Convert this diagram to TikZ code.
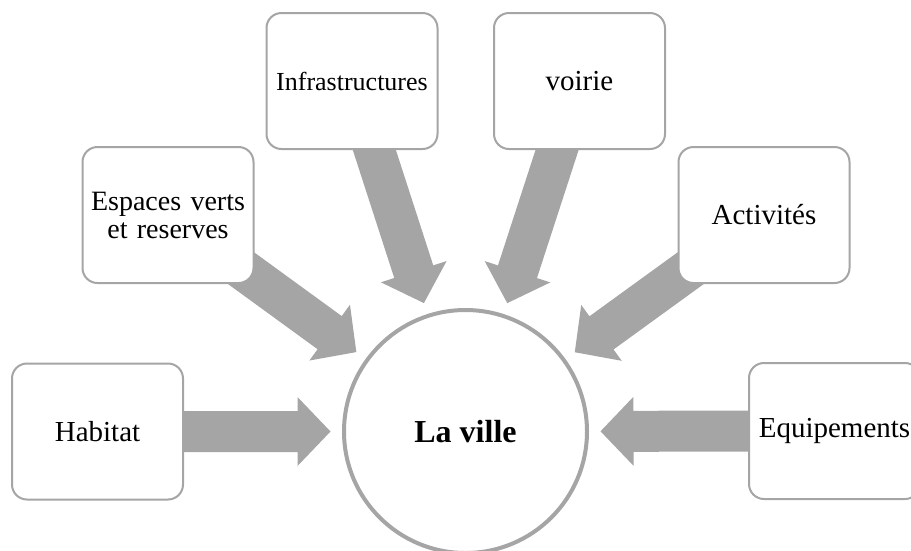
\documentclass[tikz,border=0pt]{standalone}
\usepackage{fontspec}
\setmainfont{Liberation Serif}
\usetikzlibrary{calc,backgrounds}
\definecolor{rimgray}{HTML}{A5A5A5}
\tikzset{
  topic/.style={draw=rimgray, line width=2pt, fill=white, rounded corners=15pt,
    minimum width=171pt, minimum height=136pt, align=center, inner sep=2pt,
    font=\fontsize{29}{29}\selectfont},
  hub/.style={circle, draw=rimgray, line width=4pt, fill=white,
    minimum size=243pt, font=\bfseries\fontsize{32}{32}\selectfont},
  fatarrow/.style={fill=rimgray}
}
% broad block arrow from the centre of node #1 towards the hub #2
\newcommand\blockarrow[2]{%
  \coordinate (tl) at (#1.center);
  \coordinate (tp) at ($(#2.center)!135pt!(#1.center)$);
  \coordinate (hb) at ($(tp)!33pt!(tl)$);
  \fill[fatarrow] ($(tl)!20.5pt!90:(tp)$) -- ($(hb)!20.5pt!90:(tp)$)
    -- ($(hb)!34.5pt!90:(tp)$) -- (tp) -- ($(hb)!34.5pt!-90:(tp)$)
    -- ($(hb)!20.5pt!-90:(tp)$) -- ($(tl)!20.5pt!-90:(tp)$) -- cycle;
}
\begin{document}
\begin{tikzpicture}[x=1pt,y=-1pt]
  \useasboundingbox (0,0) rectangle (911,550);
  \node[hub] (ville) at (465.5,431.5) {La ville};
  \node[topic] (habitat) at (97.5,431.5) {Habitat};
  \node[topic, text width=165pt, font=\fontsize{28}{28}\selectfont] (espaces) at (168,215) {Espaces verts\\et reserves};
  \node[topic, font=\fontsize{26}{26}\selectfont] (infra) at (352,81) {Infrastructures};
  \node[topic] (voirie) at (579.5,81) {voirie};
  \node[topic] (activ) at (764,215) {Activités};
  \node[topic] (equip) at (834.5,431) {Equipements};
  \begin{scope}[on background layer]
    \blockarrow{habitat}{ville}
    \blockarrow{espaces}{ville}
    \blockarrow{infra}{ville}
    \blockarrow{voirie}{ville}
    \blockarrow{activ}{ville}
    \blockarrow{equip}{ville}
  \end{scope}
\end{tikzpicture}
\end{document}
